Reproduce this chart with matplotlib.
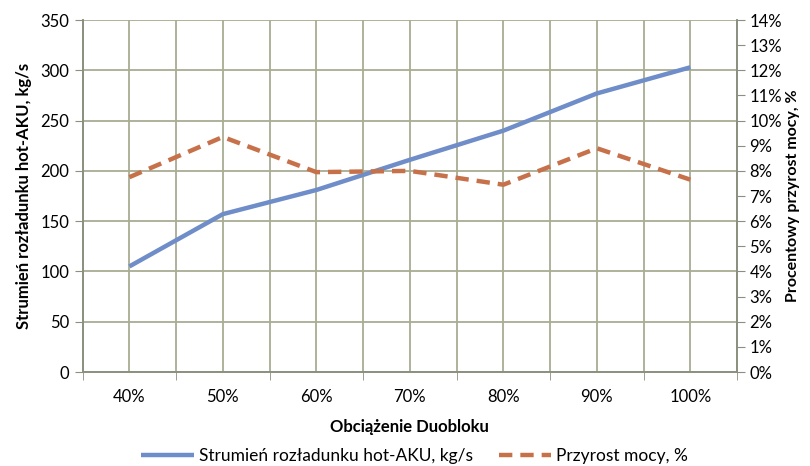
import matplotlib
matplotlib.use("Agg")
import matplotlib.pyplot as plt
import numpy as np

# Dane: obciążenie duobloku, strumień rozładunku i przyrost mocy
obciazenie = ["40%", "50%", "60%", "70%", "80%", "90%", "100%"]
strumien = [105, 157, 181, 211, 240, 277, 303]          # kg/s
przyrost = [7.75, 9.35, 7.95, 8.0, 7.45, 8.9, 7.65]      # %

plt.rcParams["font.family"] = ["Lato", "DejaVu Sans"]
plt.rcParams["font.size"] = 12

blue = "#6f8dc8"
red = "#c7714a"
grid_c = "#a9ad92"
axis_c = "#8a8f80"

fig = plt.figure(figsize=(8.1, 4.66), dpi=100)
ax = fig.add_axes([0.102, 0.2017, 0.808, 0.7553])
ax2 = ax.twinx()

x = np.arange(len(obciazenie))

# Linie
l1, = ax.plot(x, strumien, color=blue, lw=3.2, solid_capstyle="butt",
              label="Strumień rozładunku hot-AKU, kg/s", zorder=3)
l2, = ax2.plot(x, przyrost, color=red, lw=3.2, dashes=(3, 1.8),
               label="Przyrost mocy, %", zorder=3)

# Osie
ax.set_xlim(-0.5, len(x) - 0.5)
ax.set_ylim(0, 350)
ax.set_yticks(np.arange(0, 351, 50))
ax2.set_ylim(0, 14)
ax2.set_yticks(np.arange(0, 15, 1))
ax2.set_yticklabels([f"{v}%" for v in range(15)])

ax.set_xticks(x)
ax.set_xticklabels(obciazenie)
ax.set_xticks(np.arange(-0.5, len(x), 1), minor=True)
ax.tick_params(axis="x", which="major", length=0, pad=12)
ax.tick_params(axis="x", which="minor", length=6, direction="out", color=axis_c)
ax.tick_params(axis="y", length=6, direction="out", color=axis_c)
ax2.tick_params(axis="y", length=6, direction="out", color=axis_c, pad=3)

# Siatka: pionowe linie w kategoriach i na granicach
ax.grid(True, which="major", axis="both", color=grid_c, lw=1.3)
ax.grid(True, which="minor", axis="x", color=grid_c, lw=1.3)
ax.set_axisbelow(True)

for a in (ax, ax2):
    a.spines["top"].set_visible(False)
    for s in ("left", "right", "bottom"):
        a.spines[s].set_color(axis_c)
        a.spines[s].set_linewidth(1.2)
ax.patch.set_visible(False)

ax.set_xlabel("Obciążenie Duobloku", fontweight="bold", labelpad=10)
ax.set_ylabel("Strumień rozładunku hot-AKU, kg/s", fontweight="bold", labelpad=6)
ax2.set_ylabel("Procentowy przyrost mocy, %", fontweight="bold", labelpad=3,
               fontsize=11.5)

fig.legend(handles=[l1, l2], loc="center", bbox_to_anchor=(0.512, 1 - 456 / 466),
           ncol=2, frameon=False, handlelength=3.0, columnspacing=1.5,
           handletextpad=0.3, fontsize=12.5)

fig.savefig("out.png", dpi=100)
